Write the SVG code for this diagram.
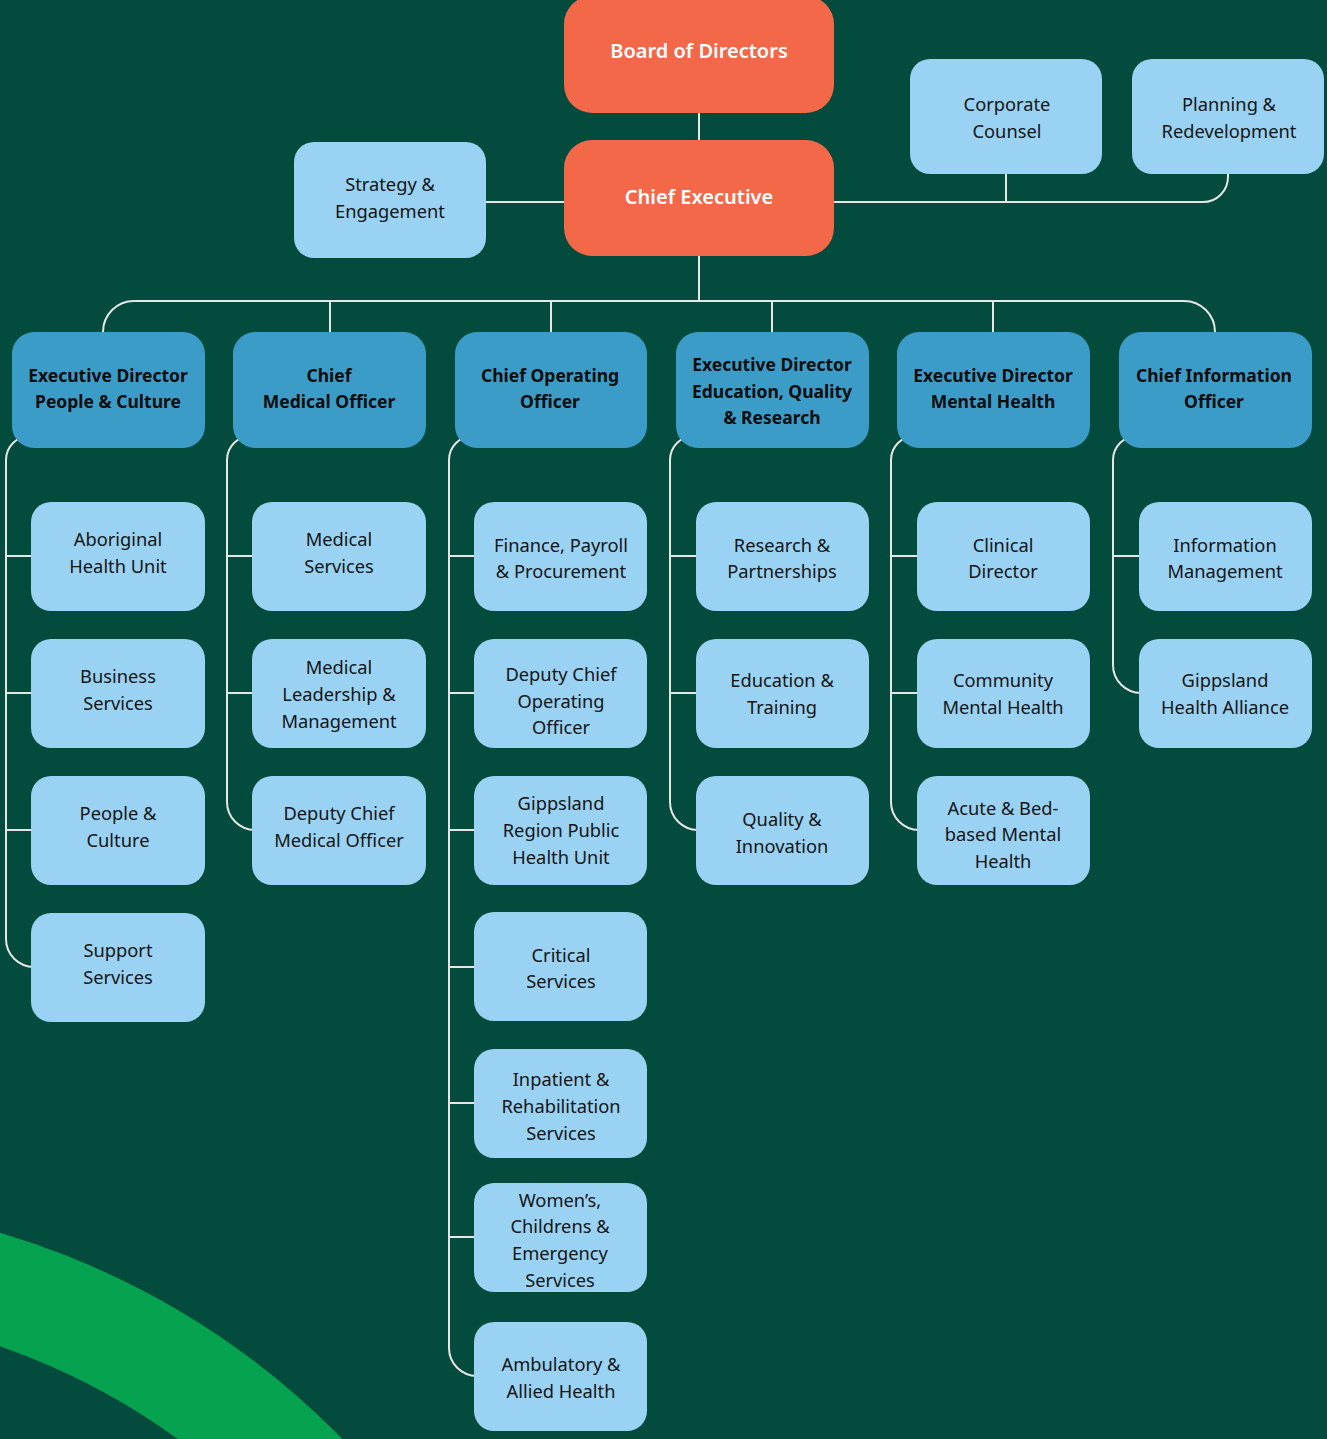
<svg xmlns="http://www.w3.org/2000/svg" width="1327" height="1439" viewBox="0 0 1327 1439">
<style>
text{font-family:"Noto Sans","Open Sans","Liberation Sans",sans-serif;text-anchor:middle;dominant-baseline:central}
.top rect{fill:#f26849}
.top text{fill:#ffffff;font-size:20px;font-weight:600}
.hd rect{fill:#3a9cc7}
.hd text{fill:#0d0d0d;font-size:17.5px;font-weight:700}
.lt rect{fill:#99d2f2}
.lt text{fill:#151515;font-size:18.3px}
#connectors path{fill:none;stroke:#e6e6e6;stroke-width:2}
</style>
<rect x="0" y="0" width="1327" height="1439" fill="#034b3c"/>
<circle cx="-226" cy="1995" r="741" fill="none" stroke="#05a350" stroke-width="108"/>
<g id="connectors">
<path d="M699 113V140"/>
<path d="M699 256V301"/>
<path d="M103 332A31 31 0 0 1 134 301H1184A31 31 0 0 1 1215 332"/>
<path d="M330 301V332M551 301V332M772 301V332M993 301V332"/>
<path d="M486 202H564"/>
<path d="M834 202H1203A25 25 0 0 0 1228 177V174"/>
<path d="M1006 174V202"/>
<path d="M30 436A24 24 0 0 0 6 460V939A28 28 0 0 0 34 967H31"/>
<path d="M6 556H31M6 693H31M6 830H31"/>
<path d="M251 436A24 24 0 0 0 227 460V802A28 28 0 0 0 255 830H252"/>
<path d="M227 556H252M227 693H252"/>
<path d="M473 436A24 24 0 0 0 449 460V1348A28 28 0 0 0 477 1376H474"/>
<path d="M449 556H474M449 693H474M449 830H474M449 967H474M449 1103H474M449 1237H474"/>
<path d="M694 436A24 24 0 0 0 670 460V802A28 28 0 0 0 698 830H696"/>
<path d="M670 556H696M670 693H696"/>
<path d="M915 436A24 24 0 0 0 891 460V802A28 28 0 0 0 919 830H917"/>
<path d="M891 556H917M891 693H917"/>
<path d="M1137 436A24 24 0 0 0 1113 460V665A28 28 0 0 0 1141 693H1139"/>
<path d="M1113 556H1139"/>
</g>
<g id="board" class="top"><rect x="564" y="-4" width="270" height="117" rx="28"/><text x="699" y="50">Board of Directors</text></g>
<g id="ceo" class="top"><rect x="564" y="140" width="270" height="116" rx="28"/><text x="699" y="196">Chief Executive</text></g>
<g id="strategy" class="lt"><rect x="294" y="142" width="192" height="116" rx="20"/><text x="390" y="183">Strategy &amp;</text><text x="390" y="210">Engagement</text></g>
<g id="counsel" class="lt"><rect x="910" y="59" width="192" height="115" rx="20"/><text x="1007" y="103">Corporate</text><text x="1007" y="130">Counsel</text></g>
<g id="planning" class="lt"><rect x="1132" y="59" width="192" height="115" rx="20"/><text x="1229" y="103">Planning &amp;</text><text x="1229" y="130">Redevelopment</text></g>
<g id="ed-people" class="hd"><rect x="12" y="332" width="193" height="116" rx="22"/><text x="108" y="375">Executive Director</text><text x="108" y="401">People &amp; Culture</text></g>
<g id="cmo" class="hd"><rect x="233" y="332" width="193" height="116" rx="22"/><text x="329" y="375">Chief</text><text x="329" y="401">Medical Officer</text></g>
<g id="coo" class="hd"><rect x="455" y="332" width="192" height="116" rx="22"/><text x="550" y="375">Chief Operating</text><text x="550" y="401">Officer</text></g>
<g id="ed-eqr" class="hd"><rect x="676" y="332" width="193" height="116" rx="22"/><text x="772" y="364">Executive Director</text><text x="772" y="391">Education, Quality</text><text x="772" y="417">&amp; Research</text></g>
<g id="ed-mh" class="hd"><rect x="897" y="332" width="193" height="116" rx="22"/><text x="993" y="375">Executive Director</text><text x="993" y="401">Mental Health</text></g>
<g id="cio" class="hd"><rect x="1119" y="332" width="193" height="116" rx="22"/><text x="1214" y="375">Chief Information</text><text x="1214" y="401">Officer</text></g>
<g id="aboriginal" class="lt"><rect x="31" y="502" width="174" height="109" rx="20"/><text x="118" y="538">Aboriginal</text><text x="118" y="565">Health Unit</text></g>
<g id="business" class="lt"><rect x="31" y="639" width="174" height="109" rx="20"/><text x="118" y="675">Business</text><text x="118" y="702">Services</text></g>
<g id="people" class="lt"><rect x="31" y="776" width="174" height="109" rx="20"/><text x="118" y="812">People &amp;</text><text x="118" y="839">Culture</text></g>
<g id="support" class="lt"><rect x="31" y="913" width="174" height="109" rx="20"/><text x="118" y="949">Support</text><text x="118" y="976">Services</text></g>
<g id="medical" class="lt"><rect x="252" y="502" width="174" height="109" rx="20"/><text x="339" y="538">Medical</text><text x="339" y="565">Services</text></g>
<g id="medlead" class="lt"><rect x="252" y="639" width="174" height="109" rx="20"/><text x="339" y="666">Medical</text><text x="339" y="693">Leadership &amp;</text><text x="339" y="720">Management</text></g>
<g id="dcmo" class="lt"><rect x="252" y="776" width="174" height="109" rx="20"/><text x="339" y="812">Deputy Chief</text><text x="339" y="839">Medical Officer</text></g>
<g id="finance" class="lt"><rect x="474" y="502" width="173" height="109" rx="20"/><text x="561" y="544">Finance, Payroll</text><text x="561" y="570">&amp; Procurement</text></g>
<g id="dcoo" class="lt"><rect x="474" y="639" width="173" height="109" rx="20"/><text x="561" y="673">Deputy Chief</text><text x="561" y="700">Operating</text><text x="561" y="726">Officer</text></g>
<g id="gipps-phu" class="lt"><rect x="474" y="776" width="173" height="109" rx="20"/><text x="561" y="802">Gippsland</text><text x="561" y="829">Region Public</text><text x="561" y="856">Health Unit</text></g>
<g id="critical" class="lt"><rect x="474" y="912" width="173" height="109" rx="20"/><text x="561" y="954">Critical</text><text x="561" y="980">Services</text></g>
<g id="inpatient" class="lt"><rect x="474" y="1049" width="173" height="109" rx="20"/><text x="561" y="1078">Inpatient &amp;</text><text x="561" y="1105">Rehabilitation</text><text x="561" y="1132">Services</text></g>
<g id="womens" class="lt"><rect x="474" y="1183" width="173" height="109" rx="20"/><text x="560" y="1199">Women’s,</text><text x="560" y="1225">Childrens &amp;</text><text x="560" y="1252">Emergency</text><text x="560" y="1279">Services</text></g>
<g id="ambulatory" class="lt"><rect x="474" y="1322" width="173" height="109" rx="20"/><text x="561" y="1363">Ambulatory &amp;</text><text x="561" y="1390">Allied Health</text></g>
<g id="research" class="lt"><rect x="696" y="502" width="173" height="109" rx="20"/><text x="782" y="544">Research &amp;</text><text x="782" y="570">Partnerships</text></g>
<g id="education" class="lt"><rect x="696" y="639" width="173" height="109" rx="20"/><text x="782" y="679">Education &amp;</text><text x="782" y="706">Training</text></g>
<g id="quality" class="lt"><rect x="696" y="776" width="173" height="109" rx="20"/><text x="782" y="818">Quality &amp;</text><text x="782" y="845">Innovation</text></g>
<g id="clinical" class="lt"><rect x="917" y="502" width="173" height="109" rx="20"/><text x="1003" y="544">Clinical</text><text x="1003" y="570">Director</text></g>
<g id="community" class="lt"><rect x="917" y="639" width="173" height="109" rx="20"/><text x="1003" y="679">Community</text><text x="1003" y="706">Mental Health</text></g>
<g id="acute" class="lt"><rect x="917" y="776" width="173" height="109" rx="20"/><text x="1003" y="807">Acute &amp; Bed-</text><text x="1003" y="833">based Mental</text><text x="1003" y="860">Health</text></g>
<g id="infomgmt" class="lt"><rect x="1139" y="502" width="173" height="109" rx="20"/><text x="1225" y="544">Information</text><text x="1225" y="570">Management</text></g>
<g id="gha" class="lt"><rect x="1139" y="639" width="173" height="109" rx="20"/><text x="1225" y="679">Gippsland</text><text x="1225" y="706">Health Alliance</text></g>
</svg>
